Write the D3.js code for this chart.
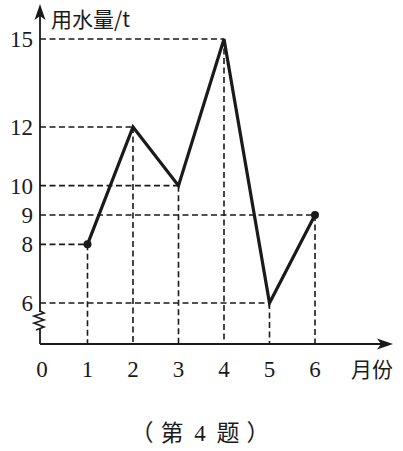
<!DOCTYPE html>
<html><head><meta charset="utf-8">
<script src="https://cdn.jsdelivr.net/npm/d3@7"></script>
<style>body{margin:0;background:#fff}</style>
</head><body>
<svg id="c" width="403" height="451"></svg>
<script>
const months = [1, 2, 3, 4, 5, 6];
const usage = [8, 12, 10, 15, 6, 9];
const yTicks = [6, 8, 9, 10, 12, 15];
const xTickLabels = ["0", "1", "2", "3", "4", "5", "6"];
const yTitle = "用水量/t";
const xTitle = "月份";
const captionParts = ["（", "第", "4", "题", "）"];

const svg = d3.select("#c");
const axisX = 40, axisY = 344;
const x = d3.scaleLinear().domain([0, 6]).range([42, 315]);
const y = d3.scaleLinear().domain([6, 15]).range([303, 39]);
const ink = "#1a1a1a";
const serif = "'Liberation Serif','DejaVu Serif',serif";
const cjk = "'Noto Sans CJK SC',sans-serif";

const data = months.map((m, i) => ({m, v: usage[i]}));

// dashed guide lines
const g = svg.append("g").attr("stroke", ink).attr("stroke-width", 1.6).attr("stroke-dasharray", "6,3.5").attr("fill", "none");
data.forEach(d => {
  g.append("line").attr("x1", axisX).attr("x2", x(d.m)).attr("y1", y(d.v)).attr("y2", y(d.v));
  g.append("line").attr("x1", x(d.m)).attr("x2", x(d.m)).attr("y1", y(d.v)).attr("y2", axisY);
});

// axes
svg.append("line").attr("x1", axisX).attr("x2", axisX).attr("y1", 16).attr("y2", 312).attr("stroke", ink).attr("stroke-width", 1.8);
svg.append("path").attr("d", `M${axisX-4},330 L${axisX+4},327 L${axisX-6},323 L${axisX+4},320 L${axisX-6},316 L${axisX+4},313 L${axisX},311`).attr("fill","none").attr("stroke", ink).attr("stroke-width", 1.6);
svg.append("line").attr("x1", axisX).attr("x2", axisX).attr("y1", 329).attr("y2", axisY).attr("stroke", ink).attr("stroke-width", 1.8);
svg.append("line").attr("x1", axisX).attr("x2", 384).attr("y1", axisY).attr("y2", axisY).attr("stroke", ink).attr("stroke-width", 1.8);
svg.append("path").attr("d", `M${axisX},4 L${axisX+5.5},20 L${axisX},16 L${axisX-5.5},20 Z`).attr("fill", ink);
svg.append("path").attr("d", `M393,${axisY} L377,${axisY-5.5} L381,${axisY} L377,${axisY+5.5} Z`).attr("fill", ink);

// line
svg.append("path").datum(data)
  .attr("d", d3.line().x(d => x(d.m)).y(d => y(d.v)))
  .attr("fill", "none").attr("stroke", ink).attr("stroke-width", 3.2).attr("stroke-linejoin", "miter");
[data[0], data[data.length-1]].forEach(d => {
  svg.append("circle").attr("cx", x(d.m)).attr("cy", y(d.v)).attr("r", 4).attr("fill", ink);
});

// y tick labels
svg.selectAll(".yt").data(yTicks).enter().append("text")
  .attr("x", 33).attr("y", d => y(d)).attr("dy", "0.35em").attr("text-anchor", "end")
  .attr("font-family", serif).attr("font-size", 23).attr("fill", ink).text(d => d);

// x tick labels
svg.selectAll(".xt").data(xTickLabels).enter().append("text")
  .attr("x", (d, i) => x(i)).attr("y", 377).attr("text-anchor", "middle")
  .attr("font-family", serif).attr("font-size", 23).attr("fill", ink).text(d => d);

svg.append("text").attr("x", 51).attr("y", 27).attr("font-family", cjk).attr("font-size", 21).attr("fill", ink).text(yTitle);
svg.append("text").attr("x", 351).attr("y", 377).attr("font-family", cjk).attr("font-size", 21).attr("fill", ink).text(xTitle);

// caption
const capX = [142, 172, 200, 228, 258];
svg.selectAll(".cap").data(captionParts).enter().append("text")
  .attr("x", (d, i) => capX[i]).attr("y", 441).attr("text-anchor", "middle")
  .attr("font-family", (d) => d === "4" ? serif : cjk).attr("font-size", 23).attr("fill", ink).text(d => d);
</script>
</body></html>
